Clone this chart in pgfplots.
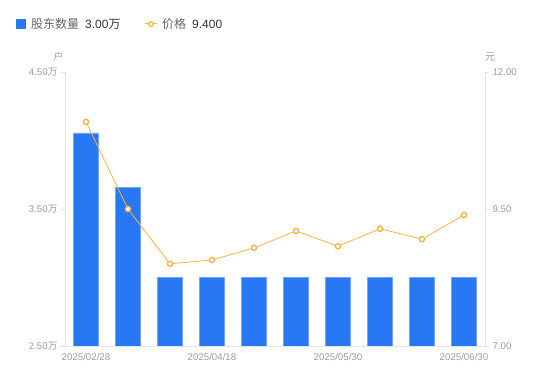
\documentclass[border=0pt]{standalone}
\usepackage{pgfplots}
\pgfplotsset{compat=1.18}
\usepackage{fontspec}
\setmainfont{Liberation Sans}
\newfontfamily\cjk{Noto Sans CJK SC}
\definecolor{barblue}{HTML}{2878F5}
\definecolor{baredge}{HTML}{6EA5F8}
\definecolor{lineor}{HTML}{F6B444}
\definecolor{ticklab}{HTML}{9B9BAB}
\definecolor{axline}{HTML}{E3E3E6}
\definecolor{legtxt}{HTML}{666666}
\definecolor{legval}{HTML}{333333}
\begin{document}
\begin{tikzpicture}
\pgfplotsset{
  common/.style={
    scale only axis,
    width=420pt, height=274pt,
    xmin=-0.5, xmax=9.5,
    tick label style={font=\fontsize{9.7}{11}\selectfont, text=ticklab},
    tick style={axline},
    tick align=outside,
    major tick length=4pt,
    axis line style={axline},
  }
}
\begin{axis}[common,
  ymin=2.5, ymax=4.5,
  axis x line*=bottom, axis y line*=left,
  xtick={0,3,6,9},
  xticklabels={2025/02/28,2025/04/18,2025/05/30,2025/06/30},
  major x tick style={draw=none},
  ytick={2.5,3.5,4.5},
  yticklabels={2.50{\cjk 万},3.50{\cjk 万},4.50{\cjk 万}},
]
\addplot[ybar, bar width=25pt, fill=barblue, draw=baredge, line width=0.7pt]
  coordinates {(0,4.055) (1,3.66) (2,3.00) (3,3.00) (4,3.00) (5,3.00) (6,3.00) (7,3.00) (8,3.00) (9,3.00)};
\end{axis}
\begin{axis}[common,
  ymin=7, ymax=12,
  axis x line=none, axis y line*=right,
  ytick={7,9.5,12},
  yticklabels={7.00,9.50,12.00},
  clip=false,
]
\addplot[lineor, line width=0.8pt, mark=*, mark size=2.6pt,
  mark options={fill=white, draw=lineor, line width=1.4pt}]
  coordinates {(0,11.09) (1,9.50) (2,8.50) (3,8.57) (4,8.79) (5,9.10) (6,8.82) (7,9.14) (8,8.95) (9,9.39)};
\end{axis}
\begin{scope}[shift={(-65pt,-35pt)}, x=1pt, y=1pt]
% axis unit labels
\node[text=ticklab, font=\cjk\fontsize{10}{12}\selectfont] at (58.5,324) {户};
\node[text=ticklab, font=\cjk\fontsize{10}{12}\selectfont] at (490,324) {元};
% legend
\fill[barblue] (16,352) rectangle (26,362);
\node[anchor=west, inner sep=0pt, text=legtxt, font=\cjk\fontsize{12}{14}\selectfont] at (31,357) {股东数量};
\node[anchor=west, inner sep=0pt, text=legval, font=\fontsize{12}{14}\selectfont] at (85,357) {3.00{\cjk 万}};
\draw[lineor, line width=1pt] (145,357) -- (157,357);
\draw[lineor, line width=1.3pt, fill=white] (151,357) circle (2.4pt);
\node[anchor=west, inner sep=0pt, text=legtxt, font=\cjk\fontsize{12}{14}\selectfont] at (162,357) {价格};
\node[anchor=west, inner sep=0pt, text=legval, font=\fontsize{12}{14}\selectfont] at (192,357) {9.400};
\pgfresetboundingbox
\useasboundingbox (0,0) rectangle (550,381);
\end{scope}
\end{tikzpicture}
\end{document}
